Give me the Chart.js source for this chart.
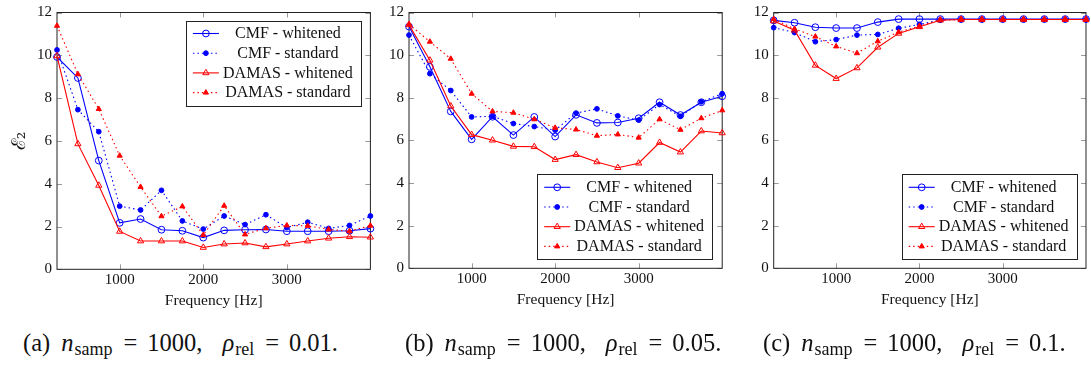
<!DOCTYPE html>
<html>
<head>
<meta charset="utf-8">
<script src="https://cdn.jsdelivr.net/npm/chart.js@4.4.1/dist/chart.umd.min.js"></script>
<style>
  html, body { margin: 0; padding: 0; background: #fff; }
  body { width: 1091px; height: 369px; position: relative; overflow: hidden; }
  canvas { position: absolute; top: 0; }
  .cap { position: absolute; top: 329px; font-family: 'Liberation Serif', serif; font-size: 24.5px;
         line-height: 28px; white-space: nowrap; color: #111; }
  .cap sub { font-size: 18px; vertical-align: -4px; line-height: 0; margin-left: 1px; }
  .cap .eq { margin: 0 10px 0 11px; }
  .cap .gap { display: inline-block; width: 20px; }
  .cap .lbl { margin-right: 11px; }
</style>
</head>
<body>
<canvas id="chartA" width="380" height="320" style="left:0px"></canvas>
<canvas id="chartB" width="360" height="320" style="left:375px"></canvas>
<canvas id="chartC" width="351" height="320" style="left:740px"></canvas>

<div class="cap" style="left:23px"><span class="lbl">(a)</span><i>n</i><sub>samp</sub><span class="eq">=</span>1000,<span class="gap"></span><i>ρ</i><sub>rel</sub><span class="eq">=</span>0.01.</div>
<div class="cap" style="left:405px"><span class="lbl">(b)</span><i>n</i><sub>samp</sub><span class="eq">=</span>1000,<span class="gap"></span><i>ρ</i><sub>rel</sub><span class="eq">=</span>0.05.</div>
<div class="cap" style="left:763px"><span class="lbl">(c)</span><i>n</i><sub>samp</sub><span class="eq">=</span>1000,<span class="gap"></span><i>ρ</i><sub>rel</sub><span class="eq">=</span>0.1.</div>

<script>
const FREQ = [250, 500, 750, 1000, 1250, 1500, 1750, 2000, 2250, 2500, 2750, 3000, 3250, 3500, 3750, 4000];
const X_TICKS = [1000, 2000, 3000];
const Y_TICKS = [0, 2, 4, 6, 8, 10, 12];
const SERIES_NAMES = ['CMF - whitened', 'CMF - standard', 'DAMAS - whitened', 'DAMAS - standard'];

// rho_rel = 0.01
const cmfWhitenedA = [9.92, 8.94, 5.08, 2.17, 2.35, 1.85, 1.80, 1.48, 1.82, 1.85, 1.86, 1.78, 1.78, 1.78, 1.80, 1.90];
const cmfStandardA = [10.25, 7.46, 6.43, 2.95, 2.77, 3.69, 2.26, 1.88, 2.49, 2.09, 2.55, 1.95, 2.20, 1.91, 2.05, 2.49];
const damasWhitenedA = [9.97, 5.86, 3.92, 1.77, 1.32, 1.32, 1.32, 1.02, 1.18, 1.23, 1.05, 1.18, 1.32, 1.45, 1.52, 1.50];
const damasStandardA = [11.38, 9.12, 7.49, 5.31, 3.85, 2.48, 2.94, 1.60, 2.97, 1.63, 1.92, 2.05, 2.03, 1.86, 1.78, 2.04];

// rho_rel = 0.05
const cmfWhitenedB = [11.34, 9.45, 7.36, 6.05, 7.11, 6.25, 7.10, 6.18, 7.20, 6.82, 6.84, 7.04, 7.79, 7.19, 7.79, 8.07];
const cmfStandardB = [10.94, 9.13, 8.34, 7.10, 7.13, 6.79, 6.65, 6.48, 7.28, 7.48, 7.15, 6.95, 7.68, 7.13, 7.81, 8.19];
const damasWhitenedB = [11.42, 9.76, 7.61, 6.27, 6.01, 5.72, 5.70, 5.10, 5.33, 4.99, 4.72, 4.93, 5.90, 5.45, 6.44, 6.35];
const damasStandardB = [11.45, 10.63, 9.83, 8.19, 7.36, 7.30, 6.99, 6.59, 6.51, 6.22, 6.28, 6.13, 6.99, 6.50, 7.04, 7.41];

// rho_rel = 0.1
const cmfWhitenedC = [11.63, 11.52, 11.31, 11.27, 11.27, 11.55, 11.69, 11.69, 11.69, 11.69, 11.69, 11.69, 11.69, 11.69, 11.69, 11.69];
const cmfStandardC = [11.29, 11.06, 10.63, 10.73, 10.94, 10.97, 11.26, 11.44, 11.65, 11.67, 11.67, 11.67, 11.67, 11.67, 11.67, 11.67];
const damasWhitenedC = [11.60, 11.17, 9.52, 8.90, 9.40, 10.37, 11.02, 11.33, 11.64, 11.67, 11.67, 11.67, 11.67, 11.67, 11.67, 11.67];
const damasStandardC = [11.69, 11.23, 10.87, 10.41, 10.09, 10.65, 11.08, 11.36, 11.65, 11.67, 11.67, 11.67, 11.67, 11.67, 11.67, 11.67];

const SERIF = "'Liberation Serif', 'DejaVu Serif', serif";

// line / marker look for each of the four methods
const STYLES = [
  { color: '#0000ff', dash: [], pointStyle: 'circle', radius: 3.4, fill: 'rgba(0,0,0,0)' },
  { color: '#0000ff', dash: [1.5, 3], pointStyle: 'circle', radius: 2.4, fill: '#0000ff' },
  { color: '#ff0000', dash: [], pointStyle: 'triangle', radius: 3.6, fill: 'rgba(0,0,0,0)' },
  { color: '#ff0000', dash: [1.5, 3], pointStyle: 'triangle', radius: 3.0, fill: '#ff0000' }
];

// box around the plot plus short inward ticks on all four sides
const framePlugin = {
  id: 'frame',
  beforeDatasetsDraw(chart) {
    const { ctx, chartArea: a, scales: { x, y } } = chart;
    ctx.save();
    ctx.strokeStyle = '#9a9a9a';
    ctx.lineWidth = 1;
    ctx.beginPath();
    X_TICKS.forEach(v => {
      const px = Math.round(x.getPixelForValue(v)) + 0.5;
      ctx.moveTo(px, a.top); ctx.lineTo(px, a.top + 5);
      ctx.moveTo(px, a.bottom); ctx.lineTo(px, a.bottom - 5);
    });
    Y_TICKS.forEach(v => {
      const py = Math.round(y.getPixelForValue(v)) + 0.5;
      ctx.moveTo(a.left, py); ctx.lineTo(a.left + 5, py);
      ctx.moveTo(a.right, py); ctx.lineTo(a.right - 5, py);
    });
    ctx.stroke();
    ctx.strokeStyle = '#222';
    ctx.strokeRect(a.left, a.top, a.width, a.height);
    ctx.restore();
  }
};

// pgfplots-like legend box: short line sample with marker, centred text
const legendPlugin = {
  id: 'boxLegend',
  afterDatasetsDraw(chart, args, opts) {
    const { ctx, chartArea: a } = chart;
    const w = 175, h = 85;
    const left = a.right - opts.right - w;
    const top = opts.corner === 'top' ? a.top + opts.gap : a.bottom - opts.gap - h;
    ctx.save();
    ctx.fillStyle = '#fff';
    ctx.fillRect(left, top, w, h);
    ctx.strokeStyle = '#222';
    ctx.lineWidth = 1;
    ctx.strokeRect(Math.round(left) + 0.5, Math.round(top) + 0.5, w, h);
    chart.data.datasets.forEach((ds, i) => {
      const st = STYLES[i];
      const cy = top + 13 + i * 19.7;
      ctx.strokeStyle = st.color;
      ctx.lineWidth = 1.1;
      ctx.setLineDash(st.dash);
      ctx.beginPath();
      ctx.moveTo(left + 7, cy);
      ctx.lineTo(left + 33, cy);
      ctx.stroke();
      ctx.setLineDash([]);
      ctx.fillStyle = st.fill;
      ctx.lineWidth = 1;
      Chart.helpers.drawPoint(ctx, { pointStyle: st.pointStyle, radius: st.radius, rotation: 0, borderWidth: 1 }, left + 20, cy);
      ctx.fillStyle = '#111';
      ctx.font = '16px ' + SERIF;
      ctx.textAlign = 'center';
      ctx.textBaseline = 'middle';
      ctx.fillText(ds.label, left + 102, cy + 0.5);
    });
    ctx.restore();
  }
};

function makePanel(id, series, panel) {
  const canvas = document.getElementById(id);
  const datasets = series.map((values, i) => ({
    label: SERIES_NAMES[i],
    data: FREQ.map((f, k) => ({ x: f, y: values[k] })),
    borderColor: STYLES[i].color,
    borderWidth: 1.1,
    borderDash: STYLES[i].dash,
    pointStyle: STYLES[i].pointStyle,
    pointRadius: STYLES[i].radius,
    pointBorderWidth: 1,
    pointBorderColor: STYLES[i].color,
    pointBackgroundColor: STYLES[i].fill,
    tension: 0,
    clip: false,
    order: 4 - i
  }));

  const xHeight = 46;
  return new Chart(canvas, {
    type: 'line',
    data: { datasets },
    options: {
      responsive: false,
      animation: false,
      events: [],
      layout: {
        padding: {
          left: 0,
          top: panel.top,
          right: canvas.width - panel.right,
          bottom: canvas.height - panel.bottom - xHeight
        }
      },
      scales: {
        x: {
          type: 'linear',
          min: 250,
          max: 4000,
          afterBuildTicks: s => { s.ticks = X_TICKS.map(v => ({ value: v })); },
          afterFit: s => { s.height = xHeight; },
          grid: { display: false, drawTicks: false },
          border: { display: false },
          ticks: {
            padding: 3,
            color: '#111',
            font: { family: SERIF, size: 15, lineHeight: 1 },
            maxRotation: 0,
            callback: v => String(v)
          },
          title: {
            display: true,
            text: 'Frequency [Hz]',
            color: '#111',
            font: { family: SERIF, size: 15.5, lineHeight: 1.2 },
            padding: { top: 0, bottom: 5 }
          }
        },
        y: {
          min: 0,
          max: 12,
          afterBuildTicks: s => { s.ticks = Y_TICKS.map(v => ({ value: v })); },
          afterFit: s => { s.width = panel.left; },
          grid: { display: false, drawTicks: false },
          border: { display: false },
          ticks: {
            padding: 5,
            color: '#111',
            font: { family: SERIF, size: 15, lineHeight: 1 }
          },
          title: {
            display: panel.yTitle,
            text: 'ℰ₂',
            color: '#111',
            font: { family: "'DejaVu Serif', serif", size: 19, lineHeight: 1 },
            padding: { top: 11, bottom: 0 }
          }
        }
      },
      plugins: {
        legend: { display: false },
        tooltip: { enabled: false },
        boxLegend: panel.legend
      }
    },
    plugins: [framePlugin, legendPlugin]
  });
}

// plot areas are given relative to each canvas
makePanel('chartA', [cmfWhitenedA, cmfStandardA, damasWhitenedA, damasStandardA],
  { left: 57, right: 370.4, top: 9.3, bottom: 269.3, yTitle: true,
    legend: { corner: 'top', gap: 8, right: 9.5 } });
makePanel('chartB', [cmfWhitenedB, cmfStandardB, damasWhitenedB, damasStandardB],
  { left: 34, right: 347.2, top: 8, bottom: 268.3, yTitle: false,
    legend: { corner: 'bottom', gap: 9, right: 10 } });
makePanel('chartC', [cmfWhitenedC, cmfStandardC, damasWhitenedC, damasStandardC],
  { left: 33.7, right: 347.3, top: 8, bottom: 268.3, yTitle: false,
    legend: { corner: 'bottom', gap: 9, right: 9.3 } });
</script>
</body>
</html>
